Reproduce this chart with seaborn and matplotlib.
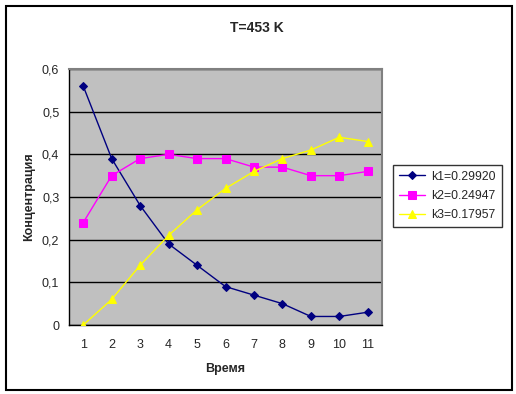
import matplotlib
matplotlib.use("Agg")
import matplotlib.pyplot as plt
import seaborn as sns
import pandas as pd
import numpy as np

times = [1, 2, 3, 4, 5, 6, 7, 8, 9, 10, 11]
k1 = [0.56, 0.39, 0.28, 0.19, 0.14, 0.09, 0.07, 0.05, 0.02, 0.02, 0.03]
k2 = [0.24, 0.35, 0.39, 0.40, 0.39, 0.39, 0.37, 0.37, 0.35, 0.35, 0.36]
k3 = [0.00, 0.06, 0.14, 0.21, 0.27, 0.32, 0.36, 0.39, 0.41, 0.44, 0.43]
names = ["k1=0.29920", "k2=0.24947", "k3=0.17957"]
y_ticks = [0, 0.1, 0.2, 0.3, 0.4, 0.5, 0.6]
y_labels = ["0", "0,1", "0,2", "0,3", "0,4", "0,5", "0,6"]

sns.set_style("white")
plt.rcParams["font.family"] = ["Liberation Sans", "DejaVu Sans"]

df = pd.DataFrame({
    "Время": times * 3,
    "Концентрация": k1 + k2 + k3,
    "series": [names[0]] * 11 + [names[1]] * 11 + [names[2]] * 11,
})

fig = plt.figure(figsize=(5.16, 3.94), dpi=100)
fig.patch.set_facecolor("white")
ax = fig.add_axes([69 / 516, 1 - 325 / 394, (382 - 69) / 516, (325 - 69) / 394])
ax.set_facecolor("#C0C0C0")

palette = {names[0]: "#000080", names[1]: "#FF00FF", names[2]: "#FFFF00"}
markers = {names[0]: "D", names[1]: "s", names[2]: "^"}
sizes_m = {names[0]: 4.5, names[1]: 6, names[2]: 6}

for n in names:
    sub = df[df["series"] == n]
    sns.lineplot(data=sub, x="Время", y="Концентрация", ax=ax, color=palette[n],
                 marker=markers[n], markersize=sizes_m[n], markeredgecolor=palette[n],
                 linewidth=1, label=n, zorder=3)

ax.set_xlim(0.5, 11.5)
ax.set_ylim(0, 0.6)
ax.set_yticks(y_ticks)
ax.set_yticklabels(y_labels, fontsize=9)
ax.set_xticks(times)
ax.set_xticklabels([str(t) for t in times], fontsize=9)
ax.set_xticks(np.arange(0.5, 12, 1), minor=True)
ax.tick_params(axis="x", which="major", length=0, pad=10)
ax.tick_params(axis="x", which="minor", length=4, width=1, direction="out", color="black")
ax.tick_params(axis="y", which="major", length=4, width=1, direction="out", color="black", pad=3)
ax.yaxis.grid(True, color="black", linewidth=1)
ax.set_axisbelow(True)

for s in ["left", "bottom"]:
    ax.spines[s].set_color("black")
    ax.spines[s].set_linewidth(1)
for s in ["top", "right"]:
    ax.spines[s].set_color("#808080")
    ax.spines[s].set_linewidth(1.5)

ax.set_xlabel("Время", fontsize=9, fontweight="bold", labelpad=9)
ax.set_ylabel("Концентрация", fontsize=9, fontweight="bold", labelpad=5)
fig.text(257 / 516, 1 - 28 / 394, "T=453 K", ha="center", va="center", fontsize=10, fontweight="bold")

leg = ax.legend(loc="upper left", bbox_to_anchor=(393 / 516, 1 - 165 / 394), bbox_transform=fig.transFigure,
                frameon=True, fancybox=False, edgecolor="black", fontsize=8.8, borderpad=0.45,
                handlelength=2.2, handletextpad=0.5, labelspacing=0.6, borderaxespad=0)
leg.get_frame().set_linewidth(1)

border = plt.Rectangle((6 / 516, 4 / 394), 506 / 516, 384 / 394, transform=fig.transFigure,
                       fill=False, edgecolor="black", linewidth=1.5)
fig.patches.append(border)

fig.savefig("out.png", dpi=100)
